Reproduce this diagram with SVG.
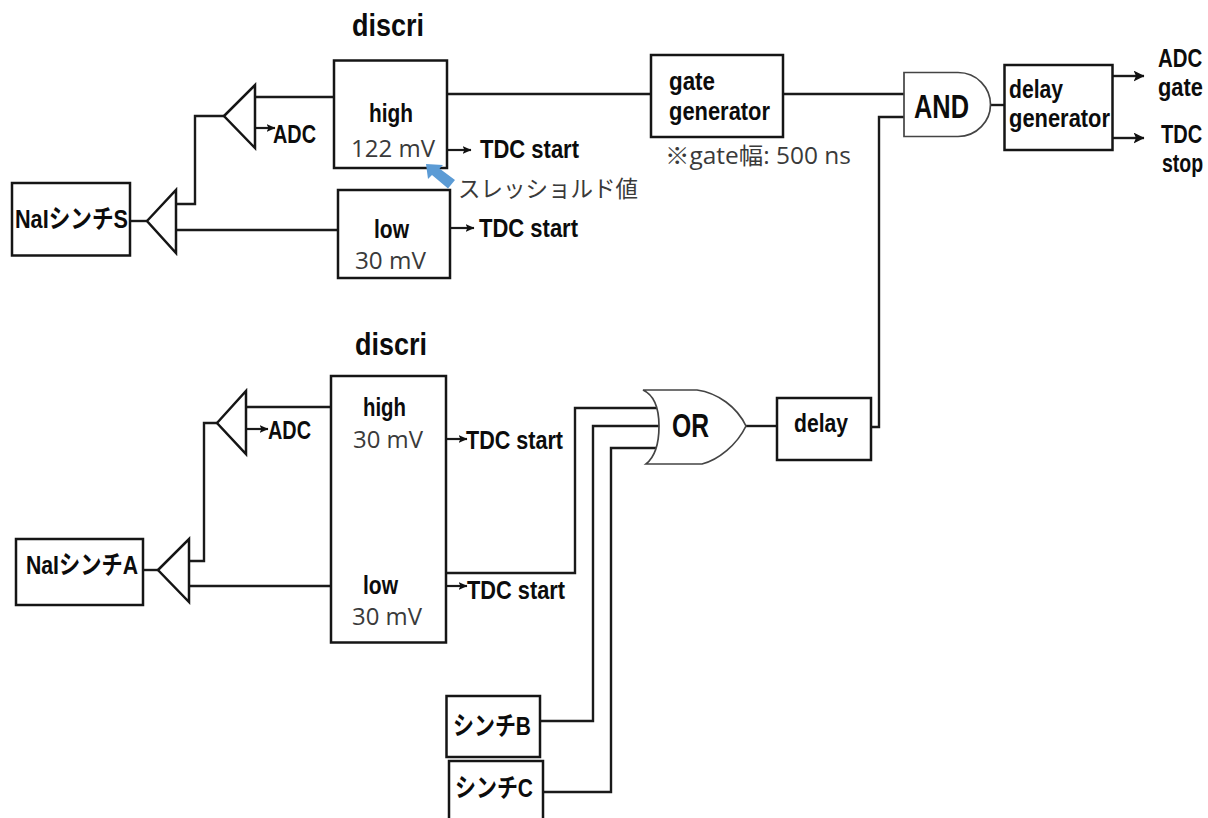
<svg xmlns="http://www.w3.org/2000/svg" width="1208" height="818" viewBox="0 0 1208 818">
<style>
.box{fill:#fff;stroke:#151515;stroke-width:2.5}
.gate{fill:#fff;stroke:#444;stroke-width:1.7}
.w{fill:none;stroke:#1a1a1a;stroke-width:2.4}
.a{fill:none;stroke:#1a1a1a;stroke-width:2.2;marker-end:url(#ah)}
.b{fill:none;stroke:#1a1a1a;stroke-width:2.4;marker-end:url(#ab)}
text{font-family:"Liberation Sans","Noto Sans CJK JP",sans-serif;font-weight:700;fill:#0c0c0c;font-size:26px}
.h{font-size:31px}
.g{font-size:34px}
.n{font-family:"Open Sans","Noto Sans CJK JP",sans-serif;font-weight:400;fill:#3a3a3a;font-size:23px}
</style>
<defs>
<marker id="ah" markerUnits="userSpaceOnUse" markerWidth="10" markerHeight="10" refX="8.500" refY="4.500" orient="auto"><path d="M0 0.500L9 4.500L0 8.500L2 4.500Z" fill="#111"/></marker>
<marker id="ab" markerUnits="userSpaceOnUse" markerWidth="12" markerHeight="12" refX="10.500" refY="5.500" orient="auto"><path d="M0 0L11 5.500L0 11L2.500 5.500Z" fill="#111"/></marker>
</defs>
<g id="connectors">
<path class="w" d="M130 221H147"/>
<path class="w" d="M176 204H195V116H224"/>
<path class="w" d="M176 230H338"/>
<path class="w" d="M255 97H334"/>
<path class="a" d="M256 128H275"/>
<path class="w" d="M447 94H651"/>
<path class="w" d="M783 94H904"/>
<path class="a" d="M448 150H471"/>
<path class="a" d="M450 228H474"/>
<path class="w" d="M990 105H1004"/>
<path class="b" d="M1112 76H1144"/>
<path class="b" d="M1112 138H1144"/>
<path class="w" d="M143 570H158"/>
<path class="w" d="M189 561H204V423H217"/>
<path class="w" d="M189 586H331"/>
<path class="w" d="M246 407H331"/>
<path class="a" d="M246 429H268"/>
<path class="a" d="M446 439H467"/>
<path class="a" d="M446 586H467"/>
<path class="w" d="M446 573H575V408H657"/>
<path class="w" d="M540 721H593V426H660"/>
<path class="w" d="M543 792H611V448H657"/>
<path class="w" d="M746 426H777"/>
<path class="w" d="M871 427H879V117H904"/>
</g>
<g id="amp-s1"><path class="box" d="M224 116L255 85V148Z"/></g>
<g id="amp-s0"><path class="box" d="M147 221L176 190V253Z"/></g>
<g id="amp-a1"><path class="box" d="M217 423L246 391V454Z"/></g>
<g id="amp-a0"><path class="box" d="M158 570L189 539V602Z"/></g>
<g id="nai-s"><rect class="box" x="12" y="183" width="118" height="72.500"/><text x="15" y="228" textLength="113" lengthAdjust="spacingAndGlyphs">NaIシンチS</text></g>
<g id="nai-a"><rect class="box" x="16" y="539" width="127" height="66"/><text x="26" y="574" textLength="112" lengthAdjust="spacingAndGlyphs">NaIシンチA</text></g>
<g id="discri-top-title"><text class="h" x="352" y="36" textLength="72" lengthAdjust="spacingAndGlyphs">discri</text></g>
<g id="discri-s-high"><rect class="box" x="334" y="60.500" width="113" height="107.500"/>
<text x="369" y="122" textLength="44" lengthAdjust="spacingAndGlyphs">high</text>
<text class="n" x="351" y="157" textLength="84" lengthAdjust="spacingAndGlyphs">122 mV</text></g>
<g id="discri-s-low"><rect class="box" x="338" y="190" width="112" height="88"/>
<text x="374" y="238" textLength="35" lengthAdjust="spacingAndGlyphs">low</text>
<text class="n" x="355" y="269" textLength="71" lengthAdjust="spacingAndGlyphs">30 mV</text></g>
<g id="threshold"><path d="M426 164L443 165L439.500 168.500L455 180L448 188.500L432 175L428 179Z" fill="#5b9bd5"/>
<text class="n" x="458" y="197" textLength="180" lengthAdjust="spacingAndGlyphs">スレッショルド値</text></g>
<g id="s-labels">
<text x="273" y="143" textLength="43" lengthAdjust="spacingAndGlyphs">ADC</text>
<text x="480" y="158" textLength="99" lengthAdjust="spacingAndGlyphs">TDC start</text>
<text x="479" y="237" textLength="99" lengthAdjust="spacingAndGlyphs">TDC start</text>
</g>
<g id="gate-generator"><rect class="box" x="651" y="55" width="132" height="82"/>
<text x="669" y="90" textLength="46" lengthAdjust="spacingAndGlyphs">gate</text>
<text x="669" y="120" textLength="101" lengthAdjust="spacingAndGlyphs">generator</text></g>
<g id="gate-note"><text class="n" x="665" y="164" textLength="186" lengthAdjust="spacingAndGlyphs">※gate幅: 500 ns</text></g>
<g id="and"><path class="gate" d="M904 72.500H958C977 72.500 990.500 88 990.500 104.500C990.500 121 977 136.500 958 136.500H904Z"/>
<text class="g" x="914" y="118" textLength="55" lengthAdjust="spacingAndGlyphs">AND</text></g>
<g id="delay-generator"><rect class="box" x="1004.500" y="65" width="108" height="85"/>
<text x="1009" y="98" textLength="54" lengthAdjust="spacingAndGlyphs">delay</text>
<text x="1009" y="127" textLength="101" lengthAdjust="spacingAndGlyphs">generator</text></g>
<g id="outputs">
<text transform="translate(1158 67) scale(.785 1)">ADC</text>
<text transform="translate(1158 96) scale(.84 1)">gate</text>
<text transform="translate(1161 143) scale(.77 1)">TDC</text>
<text transform="translate(1162 172) scale(.75 1)">stop</text>
</g>
<g id="discri-bottom-title"><text class="h" x="355" y="355" textLength="72" lengthAdjust="spacingAndGlyphs">discri</text></g>
<g id="discri-a"><rect class="box" x="331" y="376" width="115" height="266.500"/>
<text x="363" y="416" textLength="43" lengthAdjust="spacingAndGlyphs">high</text>
<text class="n" x="353" y="448" textLength="70" lengthAdjust="spacingAndGlyphs">30 mV</text>
<text x="363" y="594" textLength="35" lengthAdjust="spacingAndGlyphs">low</text>
<text class="n" x="352" y="625" textLength="70" lengthAdjust="spacingAndGlyphs">30 mV</text></g>
<g id="a-labels">
<text x="268" y="439" textLength="43" lengthAdjust="spacingAndGlyphs">ADC</text>
<text x="466" y="449" textLength="97" lengthAdjust="spacingAndGlyphs">TDC start</text>
<text x="467" y="599" textLength="98" lengthAdjust="spacingAndGlyphs">TDC start</text>
</g>
<g id="or"><path class="gate" d="M643 390H697C718 393 737 407 746 426C737 445 718 460 702 464H646C656 456 659 442 659 426C659 410 656 396 643 390Z"/>
<text class="g" x="672" y="437" textLength="37" lengthAdjust="spacingAndGlyphs">OR</text></g>
<g id="delay"><rect class="box" x="777" y="398" width="94" height="62"/>
<text x="794" y="432" textLength="54" lengthAdjust="spacingAndGlyphs">delay</text></g>
<g id="scint-b"><rect class="box" x="446.500" y="696" width="93.500" height="61"/>
<text x="453" y="735" textLength="78" lengthAdjust="spacingAndGlyphs">シンチB</text></g>
<g id="scint-c"><rect class="box" x="449" y="761" width="94" height="70"/>
<text x="455" y="797" textLength="78" lengthAdjust="spacingAndGlyphs">シンチC</text></g>
</svg>
